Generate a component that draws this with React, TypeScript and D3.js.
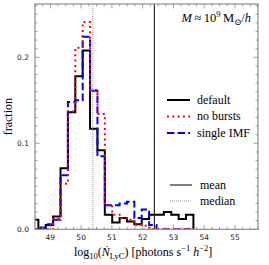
import React from "react";
import * as d3 from "d3";

// bin edges of log10(N_LyC), shared by the three histograms
const binEdges = [
  48.37, 48.61, 48.85, 49.09, 49.33, 49.57, 49.81, 50.05, 50.29, 50.53, 50.77, 51.01,
  51.25, 51.49, 51.73, 51.97, 52.21, 52.45, 52.69, 52.93, 53.17, 53.41, 53.65,
];

const defaultFrac = [
  0.011, 0.001, 0.005, 0.015, 0.071, 0.136, 0.178, 0.208, 0.117, 0.092, 0.017,
  0.008, 0.013, 0.009, 0.006, 0.012, 0.017, 0.017, 0.02, 0.017, 0.012, 0.017,
];
const noBurstsFrac = [
  0, 0, 0, 0.012, 0.053, 0.137, 0.211, 0.241, 0.162, 0.134, 0.028,
  0.017, 0.013, 0.011, 0.005, 0.004, 0, 0, 0, 0, 0, 0,
];
const singleImfFrac = [
  0, 0.002, 0.006, 0.011, 0.063, 0.148, 0.15, 0.224, 0.161, 0.085, 0.028,
  0.028, 0.03, 0.032, 0.013, 0.023, 0.005, 0, 0, 0, 0, 0,
];

const meanValue = 52.38;
const medianValue = 50.38;

const xTicks = [49, 50, 51, 52, 53, 54, 55];
const yTicks = [0.0, 0.1, 0.2];

const width = 269;
const height = 265;
const left = 35;
const right = 258;
const top = 4;
const bottom = 229.3;

const x = d3.scaleLinear().domain([48.5, 55.75]).range([left, right]);
const y = d3.scaleLinear().domain([0, 0.262]).range([bottom, top]);

const xMinor = d3.range(48.5, 55.76, 0.25).filter((v) => Math.abs(v - Math.round(v)) > 0.01);
const yMinor = d3.range(0, 0.262, 0.01).filter((v) => Math.abs(v * 10 - Math.round(v * 10)) > 0.01);

const stepLine = d3
  .line<[number, number]>()
  .x((d) => x(d[0]))
  .y((d) => y(d[1]))
  .curve(d3.curveStepAfter);

function stepPath(vals: number[]) {
  const pts: [number, number][] = [[binEdges[0], 0]];
  vals.forEach((v, i) => pts.push([binEdges[i], v]));
  pts.push([binEdges[vals.length], vals[vals.length - 1]]);
  pts.push([binEdges[vals.length], 0]);
  return stepLine(pts) || "";
}

const series = [
  { name: "default", vals: defaultFrac, color: "#000", dash: "" },
  { name: "single IMF", vals: singleImfFrac, color: "#0000ff", dash: "7.4,3.2" },
  { name: "no bursts", vals: noBurstsFrac, color: "#ff0000", dash: "2,3.3" },
];
const legendOrder = [series[0], series[2], series[1]];

const serif = "'Liberation Serif', 'DejaVu Serif', serif";
const sans = "'DejaVu Sans', sans-serif";
const frameColor = "#8c8c8c";

const App = () => {
  return (
    <svg
      width={width}
      height={height}
      style={{ position: "absolute", left: 0, top: 0, background: "#fff" }}
    >
      <defs>
        <clipPath id="plot">
          <rect x={left} y={top} width={right - left} height={bottom - top} />
        </clipPath>
      </defs>

      <g clipPath="url(#plot)">
        {series.map((s) => (
          <path
            key={s.name}
            d={stepPath(s.vals)}
            fill="none"
            stroke={s.color}
            strokeWidth={2}
            strokeDasharray={s.dash}
          />
        ))}
        <line x1={x(meanValue)} x2={x(meanValue)} y1={top} y2={bottom} stroke="#000" strokeWidth={1} />
        <line
          x1={x(medianValue)}
          x2={x(medianValue)}
          y1={top}
          y2={bottom}
          stroke="#777"
          strokeWidth={0.8}
          strokeDasharray="1,1"
        />
      </g>

      {/* frame */}
      <rect x={left} y={top} width={right - left} height={bottom - top} fill="none" stroke={frameColor} strokeWidth={1.2} />

      {/* ticks, pointing inward on all sides */}
      <g stroke={frameColor} strokeWidth={0.8}>
        {xTicks.map((t) => (
          <g key={"xt" + t}>
            <line x1={x(t)} x2={x(t)} y1={bottom} y2={bottom - 4.5} />
            <line x1={x(t)} x2={x(t)} y1={top} y2={top + 4.5} />
          </g>
        ))}
        {xMinor.map((t) => (
          <g key={"xm" + t}>
            <line x1={x(t)} x2={x(t)} y1={bottom} y2={bottom - 2.5} />
            <line x1={x(t)} x2={x(t)} y1={top} y2={top + 2.5} />
          </g>
        ))}
        {yTicks.map((t) => (
          <g key={"yt" + t}>
            <line x1={left} x2={left + 4.5} y1={y(t)} y2={y(t)} />
            <line x1={right} x2={right - 4.5} y1={y(t)} y2={y(t)} />
          </g>
        ))}
        {yMinor.map((t) => (
          <g key={"ym" + t}>
            <line x1={left} x2={left + 2.5} y1={y(t)} y2={y(t)} />
            <line x1={right} x2={right - 2.5} y1={y(t)} y2={y(t)} />
          </g>
        ))}
      </g>

      {/* tick labels */}
      <g fontFamily={sans} fontSize={7.5} fill="#222">
        {xTicks.map((t) => (
          <text key={"xl" + t} x={x(t)} y={240} textAnchor="middle">
            {t}
          </text>
        ))}
        {yTicks.map((t) => (
          <text key={"yl" + t} x={29} y={y(t) + 2.7} textAnchor="end">
            {d3.format(".1f")(t)}
          </text>
        ))}
      </g>

      {/* axis labels */}
      <text
        transform={`translate(11.5, ${(top + bottom) / 2}) rotate(-90)`}
        textAnchor="middle"
        fontFamily={serif}
        fontSize={12}
      >
        fraction
      </text>
      <text x={74} y={256} fontFamily={serif} fontSize={12}>
        log
        <tspan fontSize={8.5} dy={3}>10</tspan>
        <tspan dy={-3}>(</tspan>
        <tspan fontStyle="italic">Ṅ</tspan>
        <tspan fontSize={8.5} dy={3}>LyC</tspan>
        <tspan dy={-3}>) [photons s</tspan>
        <tspan fontSize={8.5} dy={-5}>−1</tspan>
        <tspan dy={5}> </tspan>
        <tspan fontStyle="italic">h</tspan>
        <tspan fontSize={8.5} dy={-5}>−2</tspan>
        <tspan dy={5}>]</tspan>
      </text>

      {/* mass annotation */}
      <text x={251} y={22} textAnchor="end" fontFamily={serif} fontSize={12.5}>
        <tspan fontStyle="italic">M</tspan>
        <tspan>{"\u2009≈\u200910"}</tspan>
        <tspan fontSize={8.5} dy={-5}>9</tspan>
        <tspan dy={5}>{"\u2009M"}</tspan>
        <tspan fontSize={8.5} dy={3}>⊙</tspan>
        <tspan dy={-3}>/</tspan>
        <tspan fontStyle="italic">h</tspan>
      </text>

      {/* legend for histograms */}
      {legendOrder.map((s, i) => (
        <g key={"lg" + s.name} transform={`translate(0, ${100 + i * 16.5})`}>
          <line x1={167} x2={190} y1={0} y2={0} stroke={s.color} strokeWidth={2} strokeDasharray={s.dash} />
          <text x={197} y={3.5} fontFamily={serif} fontSize={12}>
            {s.name}
          </text>
        </g>
      ))}

      {/* legend for mean / median */}
      <line x1={170} x2={192} y1={185} y2={185} stroke="#000" strokeWidth={1} />
      <text x={200} y={188.5} fontFamily={serif} fontSize={12}>
        mean
      </text>
      <line x1={170} x2={192} y1={201} y2={201} stroke="#777" strokeWidth={0.8} strokeDasharray="1,1" />
      <text x={200} y={204.5} fontFamily={serif} fontSize={12}>
        median
      </text>
    </svg>
  );
};

export default App;
